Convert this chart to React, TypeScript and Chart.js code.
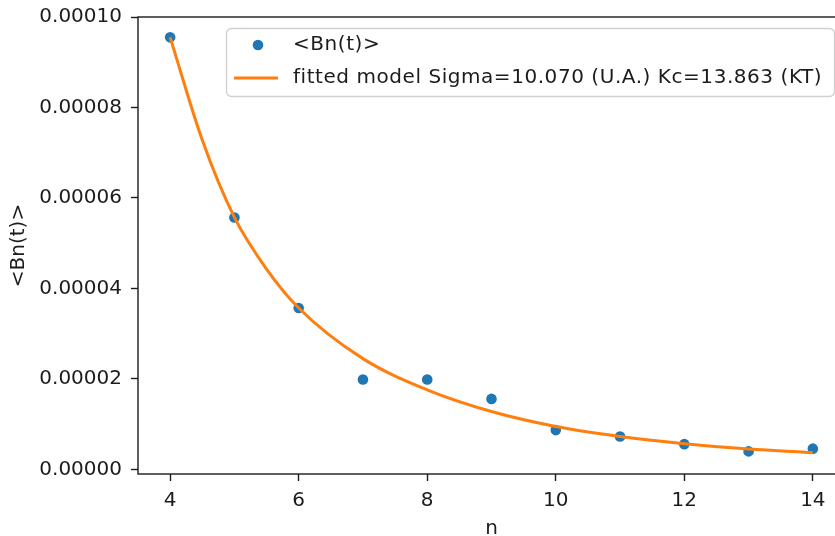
import React, { useEffect, useRef } from "react";
import { Chart, registerables } from "chart.js";

Chart.register(...registerables);

// Observed mean values <Bn(t)> for each cluster size n
const nValues = [4, 5, 6, 7, 8, 9, 10, 11, 12, 13, 14];
const bnValues = [
  0.0000955, 0.0000557, 0.0000357, 0.0000199, 0.0000199, 0.0000156,
  0.0000087, 0.0000073, 0.0000056, 0.000004, 0.0000046,
];

// Fitted model curve, sampled along n
const fitN = [4, 4.5, 5, 5.5, 6, 7, 8, 9, 10, 11, 12, 13, 14];
const fitValues = [
  0.0000955, 0.0000728, 0.0000557, 0.0000443, 0.0000357, 0.0000245,
  0.0000176, 0.0000128, 0.0000095, 0.0000073, 0.0000057, 0.0000045,
  0.0000037,
];

const xTicks = [4, 6, 8, 10, 12, 14];
const yTicks = [0, 0.00002, 0.00004, 0.00006, 0.00008, 0.0001];

const dataLabel = "<Bn(t)>";
const fitLabel = "fitted model Sigma=10.070 (U.A.) Kc=13.863 (KT)";

const FONT = "'DejaVu Sans', sans-serif";
const FONT_SIZE = 20;
const INK = "#1c1c1c";
const BLUE = "#1f77b4";
const ORANGE = "#ff7f0e";

// Frame around the plot area (all four spines)
const framePlugin = {
  id: "frame",
  afterDatasetsDraw(chart: any) {
    const { left, right, top, bottom } = chart.chartArea;
    const ctx = chart.ctx;
    ctx.save();
    ctx.strokeStyle = INK;
    ctx.lineWidth = 1.4;
    ctx.strokeRect(left, top, right - left, bottom - top);
    ctx.restore();
  },
};

// Legend box in the upper right of the plot
const legendPlugin = {
  id: "boxLegend",
  afterDraw(chart: any) {
    const ctx = chart.ctx;
    const x0 = 226;
    const y0 = 28;
    const w = 608;
    const h = 68;
    ctx.save();
    ctx.beginPath();
    ctx.roundRect(x0 + 0.5, y0 + 0.5, w, h, 5);
    ctx.fillStyle = "rgba(255,255,255,0.85)";
    ctx.fill();
    ctx.strokeStyle = "#d0d0d0";
    ctx.lineWidth = 1.3;
    ctx.stroke();

    const row1 = y0 + 17;
    const row2 = y0 + 50;
    ctx.fillStyle = BLUE;
    ctx.beginPath();
    ctx.arc(x0 + 32, row1, 5.3, 0, Math.PI * 2);
    ctx.fill();

    ctx.strokeStyle = ORANGE;
    ctx.lineWidth = 3;
    ctx.beginPath();
    ctx.moveTo(x0 + 8, row2);
    ctx.lineTo(x0 + 52, row2);
    ctx.stroke();

    ctx.fillStyle = INK;
    ctx.font = `${FONT_SIZE}px ${FONT}`;
    (ctx as any).letterSpacing = "0.55px";
    ctx.textBaseline = "middle";
    ctx.textAlign = "left";
    const ds = chart.data.datasets;
    ctx.fillText(ds[0].label, x0 + 67, row1);
    ctx.fillText(ds[1].label, x0 + 67, row2);
    ctx.restore();
  },
};

export default function App() {
  const ref = useRef<HTMLCanvasElement | null>(null);

  useEffect(() => {
    if (!ref.current) return;
    const chart = new Chart(ref.current, {
      type: "scatter",
      data: {
        datasets: [
          {
            label: dataLabel,
            data: nValues.map((n, i) => ({ x: n, y: bnValues[i] })),
            backgroundColor: BLUE,
            borderColor: BLUE,
            borderWidth: 0,
            pointRadius: 5.3,
            showLine: false,
            order: 2,
          },
          {
            label: fitLabel,
            type: "line",
            data: fitN.map((n, i) => ({ x: n, y: fitValues[i] })),
            borderColor: ORANGE,
            backgroundColor: ORANGE,
            borderWidth: 3,
            pointRadius: 0,
            cubicInterpolationMode: "monotone",
            fill: false,
            order: 1,
          },
        ],
      } as any,
      options: {
        responsive: false,
        animation: false,
        devicePixelRatio: 1,
        layout: { padding: { left: 0, top: 17, right: 25, bottom: 0 } },
        plugins: {
          legend: { display: false },
          tooltip: { enabled: false },
        },
        scales: {
          x: {
            type: "linear",
            min: 3.5,
            max: 14.5,
            afterBuildTicks: (s: any) => {
              s.ticks = xTicks.map((v) => ({ value: v }));
            },
            afterFit: (s: any) => {
              s.height = 62;
              s.paddingLeft = 0;
              s.paddingRight = 0;
            },
            grid: {
              display: true,
              drawOnChartArea: false,
              drawTicks: true,
              tickLength: 7,
              tickWidth: 1.4,
              tickColor: INK,
            },
            border: { display: false },
            ticks: {
              color: INK,
              font: { family: FONT, size: FONT_SIZE },
              padding: 8,
              maxRotation: 0,
              callback: (v: any) => String(v),
            },
            title: {
              display: true,
              text: "n",
              color: INK,
              font: { family: FONT, size: FONT_SIZE, lineHeight: 0.7 },
              padding: { top: 0, bottom: 0 },
            },
          },
          y: {
            type: "linear",
            min: -0.000001,
            max: 0.0001,
            afterBuildTicks: (s: any) => {
              s.ticks = yTicks.map((v) => ({ value: v }));
            },
            afterFit: (s: any) => {
              s.width = 138;
              s.paddingTop = 0;
              s.paddingBottom = 0;
            },
            grid: {
              display: true,
              drawOnChartArea: false,
              drawTicks: true,
              tickLength: 7,
              tickWidth: 1.4,
              tickColor: INK,
            },
            border: { display: false },
            ticks: {
              color: INK,
              font: { family: FONT, size: FONT_SIZE },
              padding: 9,
              callback: (v: any) => Number(v).toFixed(5),
            },
            title: {
              display: true,
              text: "<Bn(t)>",
              color: INK,
              font: { family: FONT, size: FONT_SIZE, lineHeight: 1 },
              padding: { top: 8.5, bottom: 0 },
            },
          },
        },
      } as any,
      plugins: [framePlugin, legendPlugin],
    });
    return () => chart.destroy();
  }, []);

  return (
    <div
      style={{
        position: "fixed",
        left: 0,
        top: 0,
        width: 870,
        height: 536,
        background: "#fff",
      }}
    >
      <canvas ref={ref} width={870} height={536} />
    </div>
  );
}
